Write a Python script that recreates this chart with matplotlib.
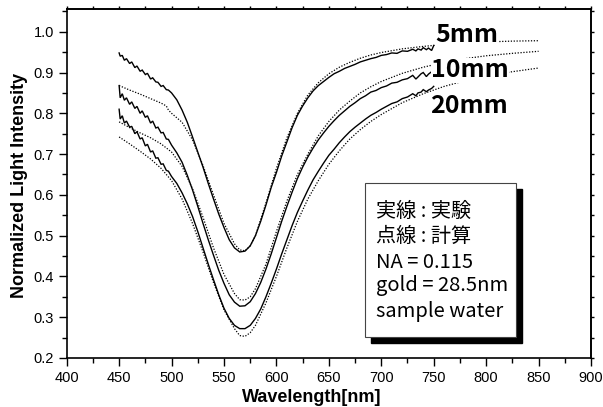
import numpy as np
import matplotlib
matplotlib.use("Agg")
import matplotlib.pyplot as plt
from matplotlib.patches import Rectangle
from matplotlib.ticker import MultipleLocator

# ---------------- data ----------------
exp_wl = [450, 451, 453, 455, 457, 460, 462, 465, 467, 470, 472, 475, 477, 480,
          482, 485, 487, 490, 492, 495, 497, 500, 505, 510, 515, 520, 525, 530,
          535, 540, 545, 550, 555, 560, 565, 570, 575, 580, 585, 590, 595, 600,
          605, 610, 615, 620, 625, 630, 635, 640, 645, 650, 655, 660, 665, 670,
          675, 680, 685, 690, 695, 700, 705, 710, 715, 720, 725, 730, 733, 735,
          738, 740, 743, 745, 748, 750]

exp_5mm = [0.948, 0.940, 0.942, 0.930, 0.934, 0.922, 0.926, 0.912, 0.916, 0.903,
           0.906, 0.895, 0.898, 0.884, 0.887, 0.877, 0.876, 0.866, 0.868, 0.858,
           0.857, 0.850, 0.833, 0.808, 0.778, 0.742, 0.705, 0.668, 0.628, 0.590,
           0.553, 0.520, 0.490, 0.470, 0.460, 0.462, 0.475, 0.500, 0.535, 0.575,
           0.618, 0.655, 0.695, 0.730, 0.765, 0.795, 0.818, 0.838, 0.855, 0.868,
           0.878, 0.888, 0.897, 0.903, 0.910, 0.915, 0.920, 0.926, 0.930, 0.934,
           0.937, 0.942, 0.944, 0.948, 0.947, 0.953, 0.952, 0.957, 0.953, 0.958,
           0.955, 0.961, 0.956, 0.960, 0.954, 0.966]

exp_10mm = [0.868, 0.838, 0.848, 0.832, 0.838, 0.822, 0.828, 0.812, 0.817, 0.800,
            0.806, 0.790, 0.794, 0.776, 0.781, 0.764, 0.766, 0.752, 0.753, 0.737,
            0.736, 0.722, 0.703, 0.680, 0.648, 0.612, 0.572, 0.530, 0.490, 0.452,
            0.415, 0.383, 0.355, 0.337, 0.327, 0.328, 0.338, 0.358, 0.385, 0.418,
            0.455, 0.495, 0.535, 0.572, 0.607, 0.640, 0.668, 0.693, 0.715, 0.735,
            0.752, 0.768, 0.782, 0.795, 0.806, 0.817, 0.826, 0.836, 0.843, 0.852,
            0.856, 0.863, 0.867, 0.874, 0.876, 0.882, 0.885, 0.893, 0.884, 0.889,
            0.897, 0.900, 0.890, 0.896, 0.902, 0.905]

exp_20mm = [0.810, 0.786, 0.794, 0.776, 0.781, 0.766, 0.768, 0.750, 0.755, 0.737,
            0.740, 0.720, 0.724, 0.705, 0.708, 0.690, 0.691, 0.675, 0.676, 0.660,
            0.658, 0.645, 0.628, 0.605, 0.578, 0.547, 0.510, 0.470, 0.430, 0.392,
            0.355, 0.322, 0.297, 0.280, 0.272, 0.272, 0.280, 0.297, 0.320, 0.350,
            0.383, 0.418, 0.455, 0.490, 0.525, 0.557, 0.585, 0.612, 0.637, 0.658,
            0.678, 0.697, 0.712, 0.728, 0.742, 0.755, 0.766, 0.776, 0.786, 0.795,
            0.802, 0.810, 0.817, 0.824, 0.828, 0.836, 0.840, 0.848, 0.843, 0.850,
            0.852, 0.858, 0.853, 0.857, 0.861, 0.866]

calc_5mm_wl = [450, 460, 470, 480, 490, 495, 497, 500, 510, 520, 530, 540, 550, 560,
               565, 570, 575, 580, 590, 600, 610, 620, 630, 640, 650, 660, 670, 680,
               690, 700, 720, 740, 760, 780, 800, 825, 850]
calc_5mm = [0.868, 0.857, 0.847, 0.836, 0.825, 0.818, 0.808, 0.800, 0.778, 0.735,
            0.672, 0.600, 0.530, 0.480, 0.465, 0.463, 0.475, 0.500, 0.580, 0.665,
            0.740, 0.800, 0.845, 0.875, 0.897, 0.913, 0.925, 0.935, 0.943, 0.949,
            0.958, 0.964, 0.969, 0.972, 0.975, 0.977, 0.978]

calc_wl = [450, 460, 470, 480, 490, 500, 510, 520, 530, 540, 550, 560, 565, 570,
           575, 580, 590, 600, 610, 620, 630, 640, 650, 660, 670, 680, 690, 700,
           720, 740, 760, 780, 800, 825, 850]
calc_10mm = [0.779, 0.765, 0.752, 0.740, 0.725, 0.705, 0.670, 0.615, 0.545, 0.470,
             0.405, 0.358, 0.343, 0.342, 0.350, 0.370, 0.430, 0.510, 0.585, 0.650,
             0.700, 0.745, 0.780, 0.808, 0.830, 0.850, 0.865, 0.878, 0.898, 0.913,
             0.925, 0.934, 0.941, 0.947, 0.952]
calc_20mm = [0.742, 0.725, 0.707, 0.688, 0.665, 0.635, 0.590, 0.530, 0.460, 0.385,
             0.318, 0.272, 0.255, 0.253, 0.262, 0.280, 0.335, 0.400, 0.470, 0.535,
             0.590, 0.635, 0.675, 0.708, 0.737, 0.760, 0.780, 0.797, 0.826, 0.848,
             0.866, 0.880, 0.891, 0.902, 0.911]

series_labels = ["5mm", "10mm", "20mm"]
box_lines = ["実線 : 実験", "点線 : 計算", "NA = 0.115", "gold = 28.5nm", "sample water"]
x_ticks = [400, 450, 500, 550, 600, 650, 700, 750, 800, 850, 900]
y_ticks = [0.2, 0.3, 0.4, 0.5, 0.6, 0.7, 0.8, 0.9, 1.0]

# ---------------- figure ----------------
W, H = 603, 407
fig = plt.figure(figsize=(W / 100, H / 100), dpi=100)
L, R, B, T = 66.7, 591, 358, 9.3
ax = fig.add_axes([L / W, 1 - B / H, (R - L) / W, (B - T) / H])

ax.set_xlim(400, 900)
ax.set_ylim(0.2, 1.055)

solid_kw = dict(color="black", lw=1.0, solid_joinstyle="miter")
dot_kw = dict(color="black", lw=0.9, linestyle=(0, (1.0, 1.3)))

ax.plot(calc_5mm_wl, calc_5mm, **dot_kw)
ax.plot(calc_wl, calc_10mm, **dot_kw)
ax.plot(calc_wl, calc_20mm, **dot_kw)
ax.plot(exp_wl, exp_5mm, **solid_kw)
ax.plot(exp_wl, exp_10mm, **solid_kw)
ax.plot(exp_wl, exp_20mm, **solid_kw)

for s in ax.spines.values():
    s.set_linewidth(1.2)

ax.set_xticks(x_ticks)
ax.set_yticks(y_ticks)
ax.set_xticklabels([str(v) for v in x_ticks])
ax.set_yticklabels([f"{v:.1f}" for v in y_ticks])
ax.xaxis.set_minor_locator(MultipleLocator(25))
ax.yaxis.set_minor_locator(MultipleLocator(0.05))
ax.tick_params(which="major", direction="out", length=6, width=1.0,
               labelsize=10.5, pad=3)
ax.tick_params(which="minor", direction="out", length=3.5, width=1.0)
for lab in ax.get_xticklabels() + ax.get_yticklabels():
    lab.set_fontfamily("Liberation Sans")

# top / right small ticks
secx = ax.secondary_xaxis("top")
secx.set_xticks(list(range(400, 901, 25)))
secx.tick_params(direction="out", length=2.5, width=1.0, labeltop=False)
secx.spines["top"].set_linewidth(1.2)
secy = ax.secondary_yaxis("right")
secy.set_yticks([0.2 + 0.05 * i for i in range(18)])
secy.tick_params(direction="out", length=2.5, width=1.0, labelright=False)
secy.spines["right"].set_linewidth(1.2)

ax.set_xlabel("Wavelength[nm]", fontsize=13, fontweight="bold",
              family="Liberation Sans")
ax.set_ylabel("Normalized Light Intensity", fontsize=13, fontweight="bold",
              family="Liberation Sans")
ax.xaxis.set_label_coords(((242 + 382) / 2 - L) / (R - L), (B - 397) / (B - T),
                          transform=ax.transAxes)
ax.xaxis.label.set_va("center")
ax.yaxis.set_label_coords((19 - L) / (R - L), (B - 185) / (B - T),
                          transform=ax.transAxes)
ax.yaxis.label.set_va("center")

# series labels
label_pos = [(435, 42), (431, 77), (430, 113)]
for txt, (px, py) in zip(series_labels, label_pos):
    fig.text(px / W, 1 - py / H, txt, fontsize=18, fontweight="bold",
             family=["Noto Sans CJK JP", "DejaVu Sans"], ha="left", va="baseline",
             bbox=dict(facecolor="white", edgecolor="none", pad=0.3), zorder=5)

# info box with shadow
bx0, bx1, by0, by1 = 365, 516, 182.7, 336.7
off = 6
fig.patches.append(Rectangle(((bx0 + off) / W, 1 - (by1 + off) / H),
                             (bx1 - bx0) / W, (by1 - by0) / H,
                             transform=fig.transFigure, facecolor="black",
                             edgecolor="black", zorder=3))
fig.patches.append(Rectangle((bx0 / W, 1 - by1 / H), (bx1 - bx0) / W, (by1 - by0) / H,
                             transform=fig.transFigure, facecolor="white",
                             edgecolor="#444444", lw=0.8, zorder=4))
baselines = [217, 242, 268, 291, 317]
for txt, py in zip(box_lines, baselines):
    fig.text(376 / W, 1 - py / H, txt, fontsize=14.5,
             family=["Noto Sans CJK JP", "DejaVu Sans"],
             ha="left", va="baseline", zorder=6)

fig.savefig("out.png", dpi=100)
